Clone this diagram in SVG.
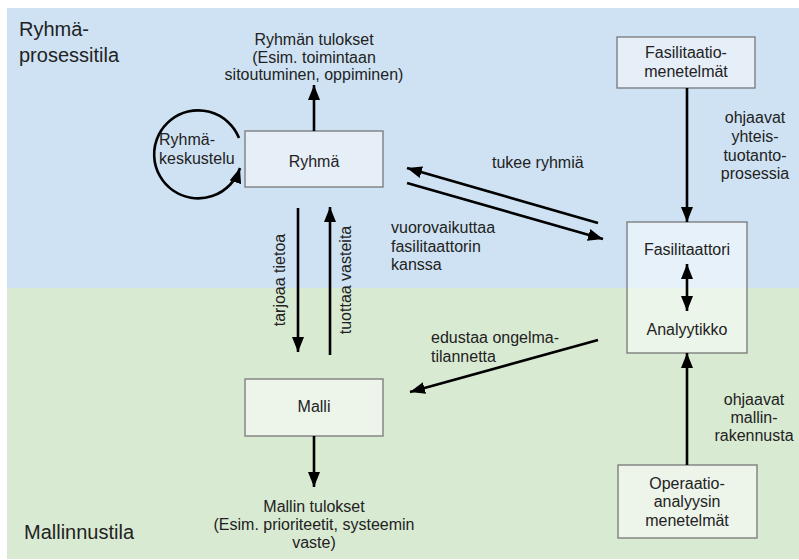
<svg xmlns="http://www.w3.org/2000/svg" width="799" height="560" viewBox="0 0 799 560">
  <style>
    text { font-family: "Liberation Sans", Arial, sans-serif; font-size: 16px; fill: #222; }
    .zone { font-size: 20px; }
    .mid { text-anchor: middle; }
    .box { stroke: #777; stroke-width: 1.3; }
    .blue { fill: #e6eef8; }
    .green { fill: #edf4ea; }
    .glass { fill: #ffffff; fill-opacity: 0.5; }
    .edge { fill: none; stroke: #000; stroke-width: 2.6; }
  </style>
  <defs>
    <marker id="arrow" markerUnits="userSpaceOnUse" markerWidth="16" markerHeight="12" viewBox="0 0 16 12" refX="15" refY="6" orient="auto-start-reverse">
      <path d="M0,0 L15,6 L0,12 Z" fill="#000"/>
    </marker>
  </defs>

  <rect width="799" height="560" fill="#ffffff"/>
  <!-- two work spaces -->
  <rect x="7" y="8" width="792" height="280" fill="#cfe2f3"/>
  <rect x="7" y="288" width="792" height="271" fill="#d9ead3"/>
  <text class="zone" x="19" y="36">Ryhmä-</text>
  <text class="zone" x="19" y="62">prosessitila</text>
  <text class="zone" x="24" y="539">Mallinnustila</text>

  <!-- free labels -->
  <g id="group-outcomes">
    <text class="mid" x="314" y="45">Ryhmän tulokset</text>
    <text class="mid" x="314" y="62.5">(Esim. toimintaan</text>
    <text class="mid" x="314" y="80">sitoutuminen, oppiminen)</text>
  </g>
  <g id="model-outcomes">
    <text class="mid" x="314" y="512">Mallin tulokset</text>
    <text class="mid" x="314" y="530">(Esim. prioriteetit, systeemin</text>
    <text class="mid" x="314" y="548">vaste)</text>
  </g>

  <!-- nodes -->
  <g id="ryhma">
    <rect class="box blue" x="245" y="131" width="138" height="56"/>
    <text class="mid" x="314" y="167">Ryhmä</text>
  </g>
  <g id="malli">
    <rect class="box green" x="245" y="379" width="138" height="57"/>
    <text class="mid" x="314" y="412">Malli</text>
  </g>
  <g id="fasilitaatiomenetelmat">
    <rect class="box blue" x="617" y="37" width="138" height="51"/>
    <text class="mid" x="686" y="58">Fasilitaatio-</text>
    <text class="mid" x="686" y="77">menetelmät</text>
  </g>
  <g id="fasilitaattori-analyytikko">
    <rect class="box glass" x="627" y="222" width="120" height="131"/>
    <text class="mid" x="687" y="255">Fasilitaattori</text>
    <text class="mid" x="687" y="335">Analyytikko</text>
  </g>
  <g id="operaatioanalyysi">
    <rect class="box green" x="618" y="465" width="139" height="73"/>
    <text class="mid" x="687" y="489">Operaatio-</text>
    <text class="mid" x="687" y="507">analyysin</text>
    <text class="mid" x="687" y="526">menetelmät</text>
  </g>

  <!-- connectors -->
  <g id="connectors">
    <line class="edge" x1="314" y1="131" x2="314" y2="85" marker-end="url(#arrow)"/>
    <line class="edge" x1="314" y1="436" x2="314" y2="487" marker-end="url(#arrow)"/>
    <line class="edge" x1="298" y1="208" x2="298" y2="352" marker-end="url(#arrow)"/>
    <line class="edge" x1="330" y1="355" x2="330" y2="207" marker-end="url(#arrow)"/>
    <line class="edge" x1="687" y1="88" x2="687" y2="222" marker-end="url(#arrow)"/>
    <line class="edge" x1="687" y1="465" x2="687" y2="353" marker-end="url(#arrow)"/>
    <line class="edge" x1="687" y1="264" x2="687" y2="311" marker-start="url(#arrow)" marker-end="url(#arrow)"/>
    <line class="edge" x1="598" y1="223" x2="407" y2="168" marker-end="url(#arrow)"/>
    <line class="edge" x1="407" y1="183" x2="603" y2="239" marker-end="url(#arrow)"/>
    <line class="edge" x1="598" y1="340" x2="410" y2="392" marker-end="url(#arrow)"/>
    <path class="edge" d="M239,138 A44,44 0 1 0 240,168" marker-end="url(#arrow)"/>

    <text x="159" y="145">Ryhmä-</text>
    <text x="159" y="164">keskustelu</text>
    <text x="492" y="168">tukee ryhmiä</text>
    <text x="391" y="233">vuorovaikuttaa</text>
    <text x="391" y="252">fasilitaattorin</text>
    <text x="391" y="270">kanssa</text>
    <text x="431" y="343">edustaa ongelma-</text>
    <text x="431" y="362">tilannetta</text>
    <text class="mid" transform="translate(285,280) rotate(-90)">tarjoaa tietoa</text>
    <text class="mid" transform="translate(351,280) rotate(-90)">tuottaa vasteita</text>
    <text class="mid" x="755" y="123">ohjaavat</text>
    <text class="mid" x="755" y="142">yhteis-</text>
    <text class="mid" x="755" y="161">tuotanto-</text>
    <text class="mid" x="755" y="179">prosessia</text>
    <text class="mid" x="754" y="405">ohjaavat</text>
    <text class="mid" x="754" y="423">mallin-</text>
    <text class="mid" x="754" y="441">rakennusta</text>
  </g>
</svg>
